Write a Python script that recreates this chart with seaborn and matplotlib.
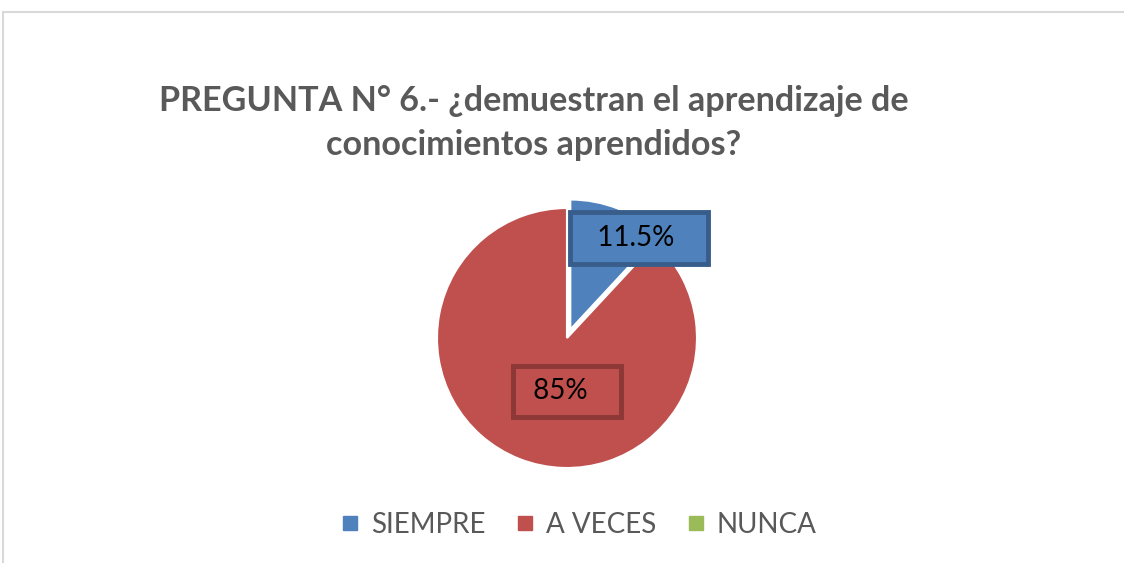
import matplotlib.pyplot as plt
import seaborn as sns
from matplotlib.patches import Rectangle

# Data
categories = ['SIEMPRE', 'A VECES', 'NUNCA']
values = [11.5, 85, 0]
value_labels = ['11.5%', '85%', '']
colors = ['#4F81BD', '#C0504D', '#9BBB59']
edge_colors = ['#385D8A', '#8C3836', '#71893F']

sns.set_theme(style='white')
plt.rcParams['font.family'] = ['Lato', 'DejaVu Sans']

fig = plt.figure(figsize=(11.24, 5.63), dpi=100)

# chart area border
fig.patches.append(Rectangle((3 / 1124, -0.1), 1.2, (563 - 12) / 563 + 0.1,
                             transform=fig.transFigure, fill=False,
                             edgecolor='#d9d9d9', linewidth=1.5))

ax = fig.add_axes([(567 - 130) / 1124, (225 - 130) / 563, 260 / 1124, 260 / 563])
wedges, _ = ax.pie(values, colors=colors, startangle=90, counterclock=False,
                   explode=[0.07, 0, 0], radius=1,
                   wedgeprops=dict(edgecolor='white', linewidth=1.5))
for w in wedges:
    w.set_clip_on(False)
ax.set_xlim(-1, 1)
ax.set_ylim(-1, 1)
ax.set_aspect('equal')
ax.axis('off')

# data labels (box padded so the text sits left of centre, as in Excel)
label_pos = [(0.555, 0.77), (0.0, -0.41)]
label_pad = [('  ', '   '), (' ', '   ')]
for i, (x, y) in enumerate(label_pos):
    txt = label_pad[i][0] + value_labels[i] + label_pad[i][1]
    ax.text(x, y, txt, ha='center', va='center', fontsize=20,
            color='black', zorder=5,
            bbox=dict(boxstyle='square,pad=0.46', facecolor=colors[i],
                      edgecolor=edge_colors[i], linewidth=3.5))

fig.text(534 / 1124, 1 - 123 / 563,
         'PREGUNTA N° 6.- ¿demuestran el aprendizaje de\nconocimientos aprendidos?',
         ha='center', va='center', fontsize=24.6, fontweight='bold',
         color='#595959', linespacing=1.45)

handles = [plt.Line2D([], [], marker='s', linestyle='', markersize=10,
                      color=c) for c in colors]
fig.legend(handles, categories, loc='center', bbox_to_anchor=(578 / 1124, 1 - 525 / 563),
           ncol=3, frameon=False, fontsize=20, labelcolor='#595959',
           handletextpad=0.35, columnspacing=1.03, handlelength=0.8)

fig.savefig('out.png', dpi=100)
